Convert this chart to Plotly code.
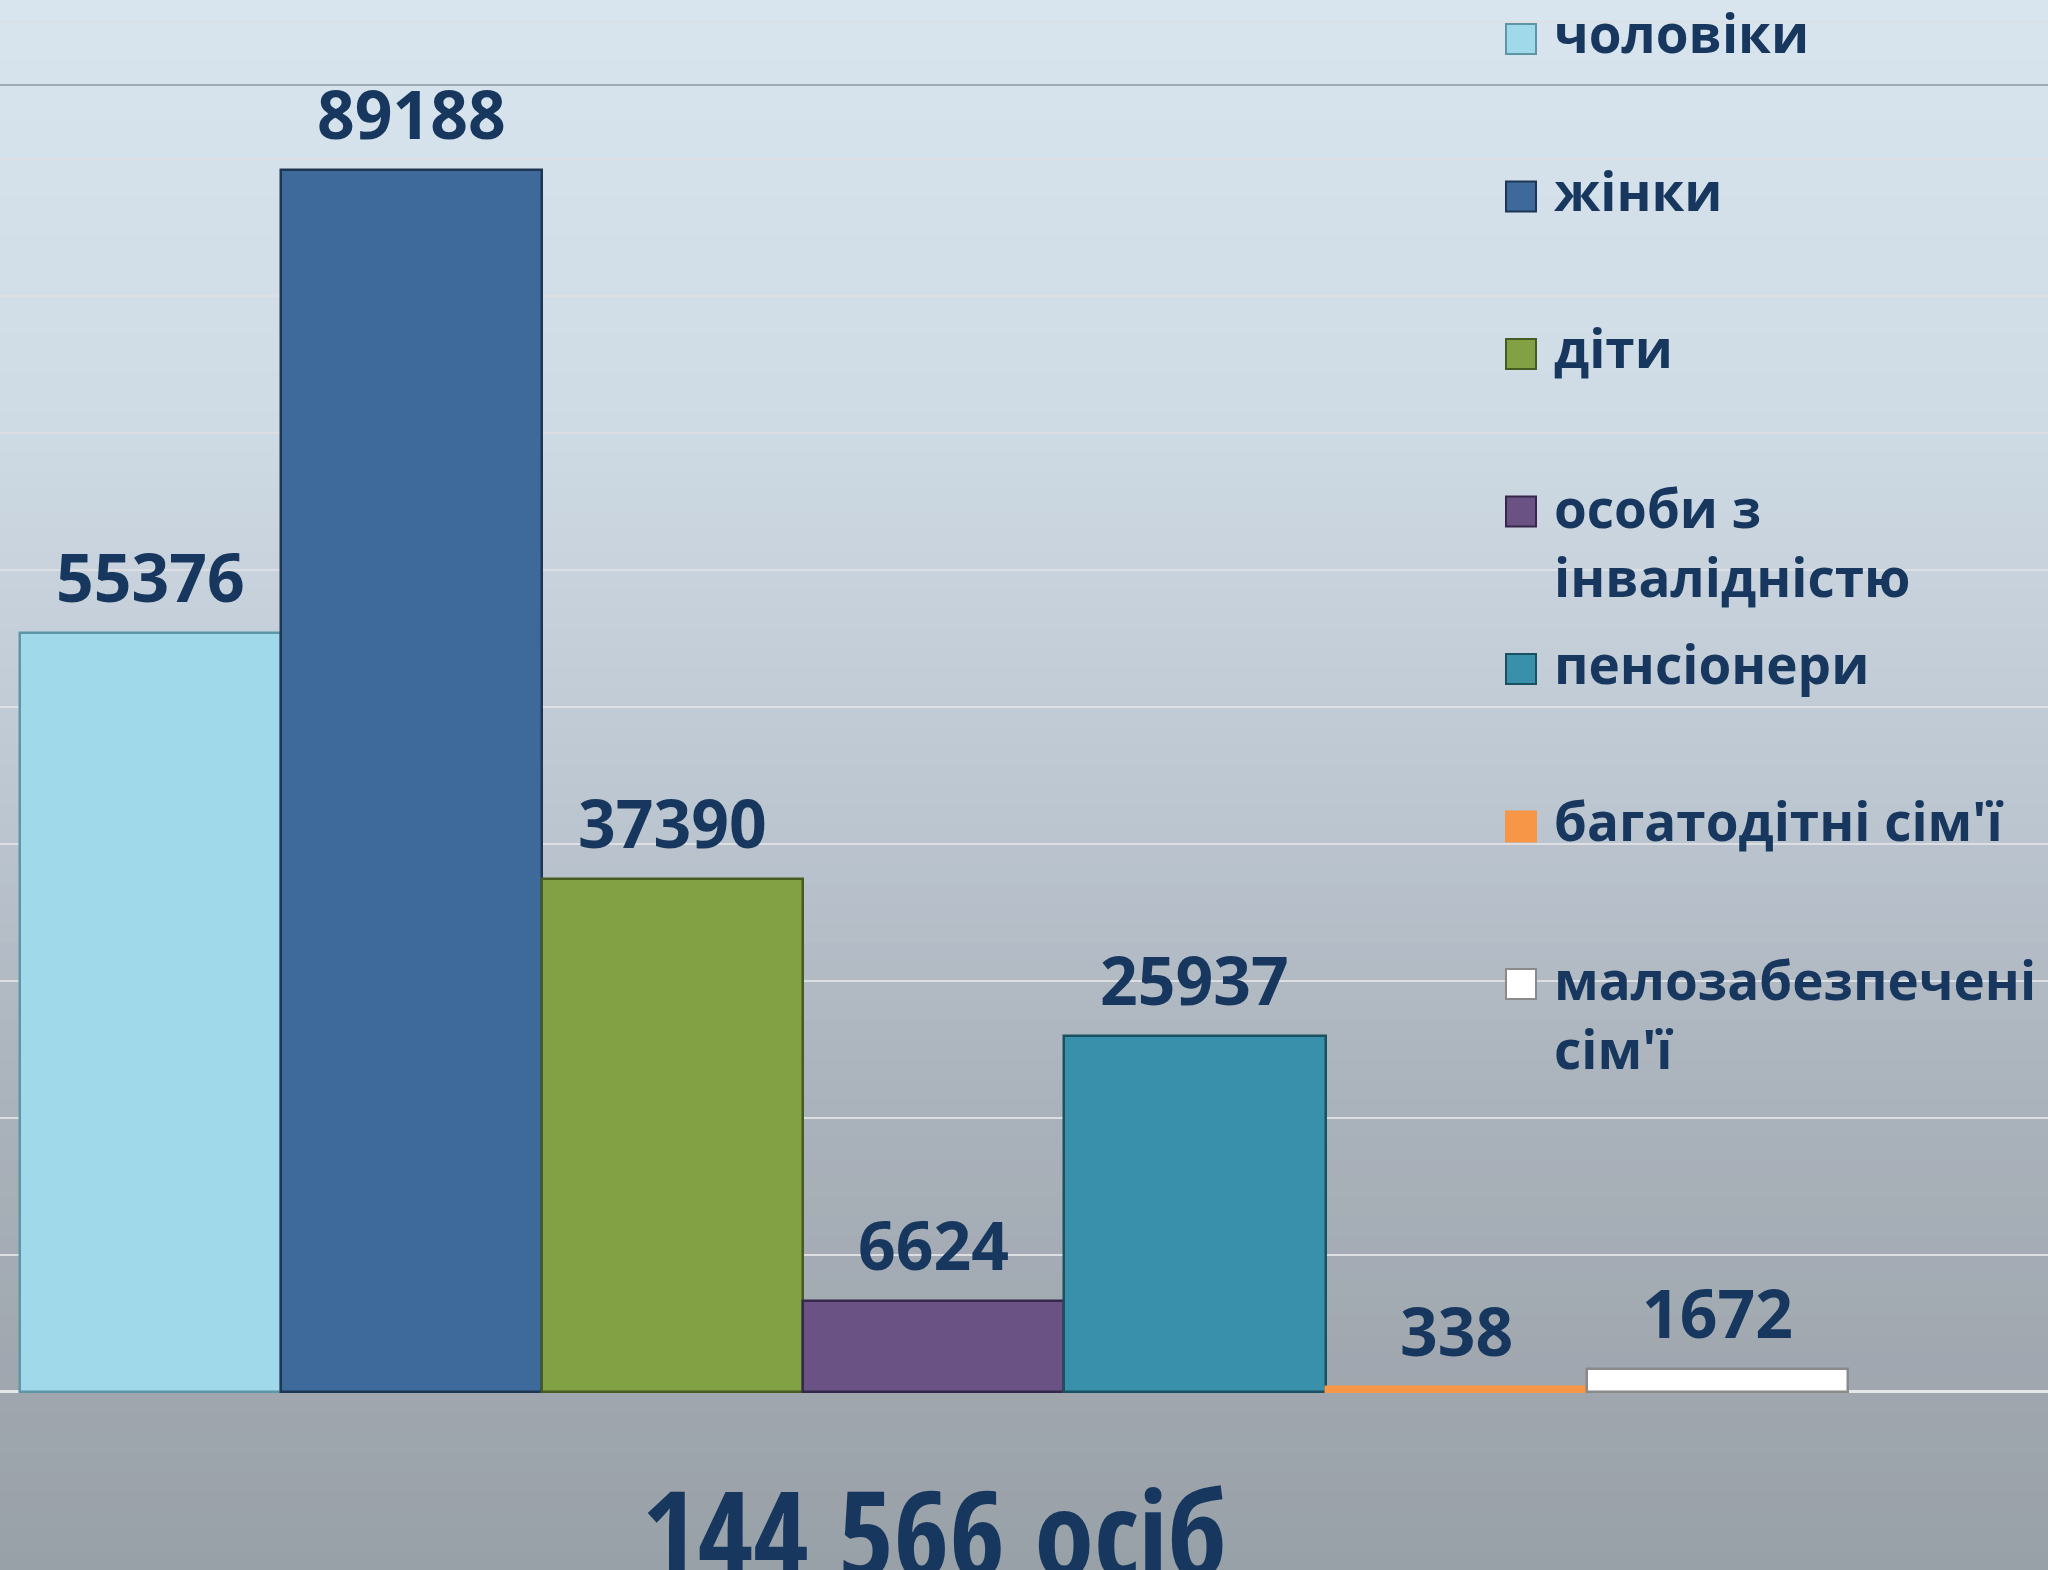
import plotly.graph_objects as go
import numpy as np

# ---- data ----
categories = ["чоловіки", "жінки", "діти", "особи з інвалідністю",
              "пенсіонери", "багатодітні сім'ї", "малозабезпечені сім'ї"]
legend_labels = ["чоловіки", "жінки", "діти", "особи з<br>інвалідністю",
                 "пенсіонери", "багатодітні сім'ї", "малозабезпечені<br>сім'ї"]
values = [55376, 89188, 37390, 6624, 25937, 338, 1672]
total_label = "144 566 осіб"
grid_ticks = list(range(0, 100001, 10000))

# ---- style ----
bar_colors = ["#a0d9ea", "#3e6a9b", "#82a044", "#6b5285", "#3990aa", "#f79646", "#ffffff"]
edge_colors = ["#5f96a6", "#1c3654", "#465b22", "#36284a", "#1b5060", "#f79646", "#8a8a8a"]
text_color = "#17375e"
W, H = 2048, 1570

fig = go.Figure()
fig.add_trace(go.Bar(
    x=categories, y=values,
    marker=dict(color=bar_colors, line=dict(color=edge_colors, width=2.5)),
    width=1.0, showlegend=False, hoverinfo="x+y",
))

# background gradient (style only)
stops_y = [0, 400, 800, 1100, 1400, 1570]
stops_c = [(216, 228, 238), (207, 219, 229), (189, 199, 209), (170, 178, 187), (159, 166, 174), (152, 160, 168)]
shapes = []
n = 80
for i in range(n):
    ya = H * i / n
    yb = H * (i + 1) / n
    ym = (ya + yb) / 2
    c = [int(round(np.interp(ym, stops_y, [s[k] for s in stops_c]))) for k in range(3)]
    shapes.append(dict(type="rect", xref="paper", yref="paper", x0=0, x1=1,
                       y0=1 - (yb + 1) / H, y1=1 - ya / H,
                       fillcolor=f"rgb({c[0]},{c[1]},{c[2]})", line=dict(width=0), layer="below"))
# dark decorative line near top
shapes.append(dict(type="line", xref="paper", yref="paper", x0=0, x1=1,
                   y0=1 - 85 / H, y1=1 - 85 / H, line=dict(color="#8d99a4", width=1.5), layer="above"))

annotations = []
# value labels
for cat, v in zip(categories, values):
    annotations.append(dict(x=cat, y=v, xref="x", yref="y", text=str(v), showarrow=False,
                            yanchor="middle", yshift=57,
                            font=dict(family="Open Sans", size=66, color=text_color, weight=700)))
# manual legend
row0, row_step = 39, 157.5
for i, (lab, col, ec) in enumerate(zip(legend_labels, bar_colors, edge_colors)):
    yc = row0 + i * row_step
    shapes.append(dict(type="rect", xref="paper", yref="paper",
                       x0=1506 / W, x1=1536 / W, y0=1 - (yc + 15) / H, y1=1 - (yc - 15) / H,
                       fillcolor=col, line=dict(color=ec, width=2)))
    nlines = lab.count("<br>") + 1
    ybox = yc - 6 + (nlines - 1) * 36
    annotations.append(dict(x=1552 / W, y=1 - ybox / H, xref="paper", yref="paper",
                            text=lab, showarrow=False, xanchor="left", yanchor="middle", align="left",
                            font=dict(family="Open Sans", size=53, color=text_color, weight=700)))
# total
annotations.append(dict(x=934 / W, y=0, xref="paper", yref="paper", text=total_label,
                        showarrow=False, xanchor="center", yanchor="bottom", yshift=-45,
                        font=dict(family="Open Sans Condensed, Noto Sans Condensed, Liberation Sans Narrow, DejaVu Sans Condensed, Open Sans",
                                  size=120, color=text_color, weight=700)))

# axis ranges from pixel layout
base_px = 1391.5
scale = (1391.5 - 170) / 89188
y_top = base_px / scale
y_bot = -(H - base_px) / scale
bar_px = 261.1
x_lo = -(20 + bar_px / 2) / bar_px
x_hi = (W - 20 - bar_px / 2) / bar_px

fig.update_layout(
    width=W, height=H, margin=dict(l=0, r=0, t=0, b=0),
    paper_bgcolor="#c8d2dc", plot_bgcolor="rgba(0,0,0,0)",
    bargap=0, shapes=shapes, annotations=annotations, showlegend=False,
    xaxis=dict(range=[x_lo, x_hi], showticklabels=False, showgrid=False, zeroline=False,
               showline=False, ticks=""),
    yaxis=dict(range=[y_bot, y_top], tickvals=grid_ticks, showticklabels=False,
               gridcolor="#dedfe2", gridwidth=2, zeroline=True, zerolinecolor="#e4e6e8",
               zerolinewidth=3, showline=False, ticks=""),
)
fig.write_html("out.html", config={"displayModeBar": False},
               post_script="document.body.style.margin='0';")
